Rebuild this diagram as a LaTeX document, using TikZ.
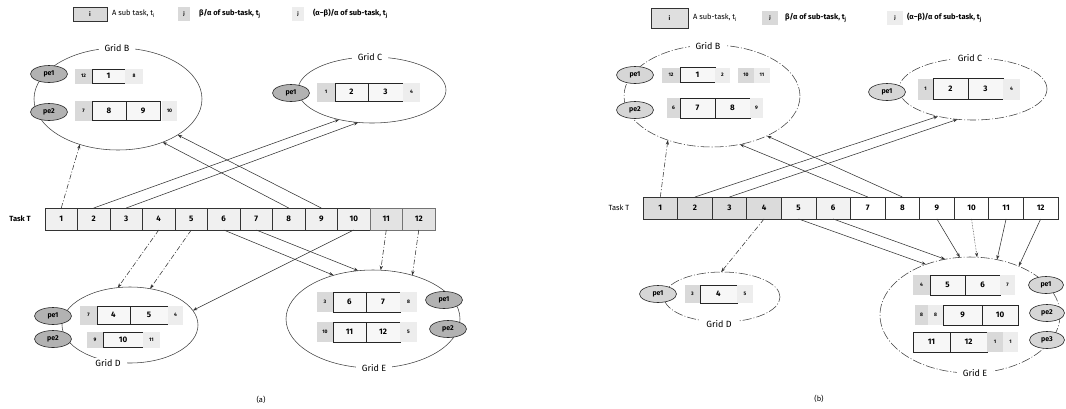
\documentclass[tikz,border=0pt]{standalone}
\usepackage{fontspec}
\setmainfont{Fira Sans}
\usetikzlibrary{shapes.geometric,arrows.meta}
\newcommand\bx[7]{\node[#2,minimum width={(#4)-(#3)},minimum height=#6] (#1) at ({((#3)+(#4))/2},#5) {#7};}
\begin{document}
\begin{tikzpicture}[x=1pt,y=-1pt,
  every node/.style={inner sep=0pt, outer sep=0pt},
  tbox/.style={draw=black!80, line width=0.7pt, minimum height=22pt, font=\bfseries\fontsize{8}{9}\selectfont},
  gridA/.style={ellipse, draw=black!75, line width=0.55pt},
  gridB/.style={ellipse, draw=black!75, line width=0.55pt, dash pattern=on 9pt off 2pt on 1pt off 2pt},
  glabel/.style={fill=white, inner xsep=6pt, inner ysep=1pt, font=\fontsize{9}{10}\selectfont},
  peA/.style={ellipse, draw=black!85, line width=0.6pt, fill=gray!60, minimum width=37pt, minimum height=17pt, font=\bfseries\fontsize{7}{8}\selectfont},
  peB/.style={peA, fill=gray!32},
  mb/.style={draw=black!85, line width=0.7pt, fill=gray!6, font=\bfseries\fontsize{8}{9}\selectfont},
  sbt/.style={fill=gray!30, font=\bfseries\fontsize{5}{6}\selectfont},
  sat/.style={fill=gray!14, font=\bfseries\fontsize{5}{6}\selectfont},
  arr/.style={-{Stealth[length=4.5pt,width=3.2pt]}, draw=black!80, line width=0.55pt},
  dd/.style={dash pattern=on 5pt off 2pt on 1pt off 2pt},
  lgt/.style={anchor=west, font=\fontsize{7.5}{9}\selectfont},
  lgb/.style={anchor=west, font=\bfseries\fontsize{7.5}{9}\selectfont}]
\useasboundingbox (0,0) rectangle (1066,408);

% ================= panel (a) =================
% legend
\node[draw=black!80, line width=0.6pt, fill=gray!30, minimum width=34pt, minimum height=14pt, font=\bfseries\fontsize{6}{7}\selectfont] (lga1) at (90,14) {i};
\node[lgt] (lga1t) at (112,14) {A sub task, t\textsubscript{i}};
\node[sbt, minimum width=12pt, minimum height=14pt] (lga2) at (184,14) {j};
\node[lgb] (lga2t) at (199,14) {β/α of sub-task, t\textsubscript{j}};
\node[sat, minimum width=12pt, minimum height=14pt] (lga3) at (298,14) {j};
\node[lgb] (lga3t) at (313,14) {(α−β)/α of sub-task, t\textsubscript{j}};

% grids
\node[gridA, minimum width=168pt, minimum height=102pt] (gBa) at (118,99) {};
\node[gridA, minimum width=148pt, minimum height=66pt] (gCa) at (372,90) {};
\node[gridA, minimum width=136pt, minimum height=76pt] (gDa) at (130,325) {};
\node[gridA, minimum width=174pt, minimum height=98pt] (gEa) at (373,319) {};
\node[glabel] (lBa) at (117,48) {Grid B};
\node[glabel] (lCa) at (370,57) {Grid C};
\node[glabel] (lDa) at (108,363) {Grid D};
\node[glabel] (lEa) at (374,368) {Grid E};

% task row
\node[font=\bfseries\fontsize{7.5}{9}\selectfont] (tTa) at (20,219) {Task T};
\foreach \i in {1,...,10} {\node[tbox, fill=gray!12, minimum width=32.5pt] (ta\i) at ({45+32.5*(\i-0.5)},219) {\i};}
\foreach \i in {11,12} {\node[tbox, fill=gray!22, draw=black!55, minimum width=32.5pt] (ta\i) at ({45+32.5*(\i-0.5)},219) {\i};}

% grid B rows
\bx{aB11}{sbt}{75}{92}{76}{15}{12}
\bx{aB12}{mb}{92}{125}{76}{14}{1}
\bx{aB13}{sat}{125}{143}{76}{15}{8}
\bx{aB21}{sbt}{75}{92}{111}{20}{7}
\bx{aB22}{mb}{92}{126}{111}{19}{8}
\bx{aB23}{mb}{126}{160}{111}{19}{9}
\bx{aB24}{sat}{162}{177}{111}{20}{10}
% grid C row
\bx{aC1}{sbt}{317}{335}{92}{19}{1}
\bx{aC2}{mb}{335}{368}{92}{18}{2}
\bx{aC3}{mb}{368}{403}{92}{18}{3}
\bx{aC4}{sat}{403}{420}{92}{19}{4}
% grid D rows
\bx{aD11}{sbt}{80}{97}{315}{19}{7}
\bx{aD12}{mb}{97}{130}{315}{18}{4}
\bx{aD13}{mb}{130}{168}{315}{18}{5}
\bx{aD14}{sat}{168}{183}{315}{19}{4}
\bx{aD21}{sbt}{87}{103}{340}{16}{9}
\bx{aD22}{mb}{103}{143}{340}{15}{10}
\bx{aD23}{sat}{143}{160}{340}{16}{11}
% grid E rows
\bx{aE11}{sbt}{317}{333}{302}{20}{3}
\bx{aE12}{mb}{333}{366}{302}{20}{6}
\bx{aE13}{mb}{366}{400}{302}{20}{7}
\bx{aE14}{sat}{400}{417}{302}{20}{8}
\bx{aE21}{sbt}{317}{333}{332}{20}{10}
\bx{aE22}{mb}{333}{366}{332}{20}{11}
\bx{aE23}{mb}{366}{400}{332}{20}{12}
\bx{aE24}{sat}{400}{417}{332}{20}{5}

% processing elements
\node[peA] (aBp1) at (49,74) {pe1};
\node[peA] (aBp2) at (49,112) {pe2};
\node[peA] (aCp1) at (291,93) {pe1};
\node[peA] (aDp1) at (53,316) {pe1};
\node[peA] (aDp2) at (53,339) {pe2};
\node[peA] (aEp1) at (444,300) {pe1};
\node[peA] (aEp2) at (448,329) {pe2};

% connectors
\draw[arr,dd] (ta1.north) -- (gBa.230);
\draw[arr] (ta2.north) -- (gCa.222);
\draw[arr] (ta3.north) -- (gCa.247);
\draw[arr] (ta8.north) -- (gBa.316);
\draw[arr] (ta9.north) -- (gBa.329);
\draw[arr,dd] (ta4.south) -- (gDa.108);
\draw[arr,dd] (ta5.south) -- (gDa.61);
\draw[arr] (ta10.south) -- (gDa.13);
\draw[arr] (ta6.south) -- (gEa.132);
\draw[arr] (ta7.south) -- (gEa.107);
\draw[arr,dd] (ta11.south) -- (gEa.81);
\draw[arr,dd] (ta12.south) -- (gEa.48);

\node[font=\fontsize{7.5}{9}\selectfont] (capa) at (261,400) {(a)};

% ================= panel (b) =================
\node[draw=black!80, line width=0.6pt, fill=gray!25, minimum width=37pt, minimum height=20pt, font=\bfseries\fontsize{6}{7}\selectfont] (lgb1) at (669.5,18) {i};
\node[lgt] (lgb1t) at (693,18) {A sub-task, t\textsubscript{i}};
\node[sbt, minimum width=16pt, minimum height=14pt] (lgb2) at (770,18) {j};
\node[lgb] (lgb2t) at (785,18) {β/α of sub-task, t\textsubscript{j}};
\node[sat, minimum width=16pt, minimum height=14pt] (lgb3) at (895,18) {j};
\node[lgb] (lgb3t) at (907,18) {(α−β)/α of sub-task, t\textsubscript{j}};

\node[gridB, minimum width=176pt, minimum height=102pt] (gBb) at (712,96) {};
\node[gridB, minimum width=148pt, minimum height=62pt] (gCb) at (973,89) {};
\node[gridB, minimum width=116pt, minimum height=50pt] (gDb) at (722,297) {};
\node[gridB, minimum width=180pt, minimum height=116pt] (gEb) at (970,315) {};
\node[glabel] (lBb) at (708,46) {Grid B};
\node[glabel] (lCb) at (970,58) {Grid C};
\node[glabel] (lDb) at (719,324) {Grid D};
\node[glabel] (lEb) at (975,373) {Grid E};

\node[font=\fontsize{7.5}{9}\selectfont] (tTb) at (619,208) {Task T};
\foreach \i in {1,...,4} {\node[tbox, fill=gray!28, minimum width=34.58pt] (tb\i) at ({643+34.58*(\i-0.5)},208) {\i};}
\foreach \i in {5,6} {\node[tbox, fill=gray!10, minimum width=34.58pt] (tb\i) at ({643+34.58*(\i-0.5)},208) {\i};}
\foreach \i in {7,...,12} {\node[tbox, fill=white, minimum width=34.58pt] (tb\i) at ({643+34.58*(\i-0.5)},208) {\i};}

% grid B rows
\bx{bB11}{sbt}{662}{680}{75}{15}{12}
\bx{bB12}{mb}{680}{715}{75}{15}{1}
\bx{bB13}{sat}{715}{730}{75}{15}{2}
\bx{bB14}{sbt}{738}{754}{75}{15}{10}
\bx{bB15}{sat}{754}{770}{75}{15}{11}
\bx{bB21}{sbt}{667}{680}{108}{20}{6}
\bx{bB22}{mb}{680}{715}{108}{20}{7}
\bx{bB23}{mb}{715}{750}{108}{20}{8}
\bx{bB24}{sat}{750}{763}{108}{20}{9}
% grid C row
\bx{bC1}{sbt}{918}{933}{89}{21}{1}
\bx{bC2}{mb}{933}{968}{89}{21}{2}
\bx{bC3}{mb}{968}{1003}{89}{21}{3}
\bx{bC4}{sat}{1003}{1020}{89}{21}{4}
% grid D row
\bx{bD1}{sbt}{685}{700}{294}{18}{3}
\bx{bD2}{mb}{700}{737}{294}{18}{4}
\bx{bD3}{sat}{737}{753}{294}{18}{5}
% grid E rows
\bx{bE11}{sbt}{913}{930}{285}{20}{4}
\bx{bE12}{mb}{930}{965}{285}{20}{5}
\bx{bE13}{mb}{965}{1000}{285}{20}{6}
\bx{bE14}{sat}{1000}{1015}{285}{20}{7}
\bx{bE21}{sbt}{915}{928}{315}{20}{8}
\bx{bE22}{sat}{928}{943}{315}{20}{8}
\bx{bE23}{mb}{943}{982}{315}{20}{9}
\bx{bE24}{mb}{982}{1018}{315}{20}{10}
\bx{bE31}{mb}{913}{950}{342}{20}{11}
\bx{bE32}{mb}{950}{987}{342}{20}{12}
\bx{bE33}{sbt}{987}{1003}{342}{20}{1}
\bx{bE34}{sat}{1003}{1018}{342}{20}{1}

\node[peB] (bBp1) at (635,75) {pe1};
\node[peB] (bBp2) at (635,110) {pe2};
\node[peB] (bCp1) at (887,92) {pe1};
\node[peB] (bDp1) at (658,294) {pe1};
\node[peB, minimum width=35pt] (bEp1) at (1046,285) {pe1};
\node[peB, minimum width=35pt] (bEp2) at (1047,313) {pe2};
\node[peB, minimum width=35pt] (bEp3) at (1047,340) {pe3};

\draw[arr,dd] (tb1.north) -- (gBb.225);
\draw[arr] (tb2.north) -- (gCb.218);
\draw[arr] (tb3.north) -- (gCb.243);
\draw[arr] (tb7.north) -- (gBb.300);
\draw[arr] (tb8.north) -- (gBb.324);
\draw[arr,dd] (tb4.south) -- (gDb.92);
\draw[arr] (tb5.south) -- (gEb.131);
\draw[arr] (tb6.south) -- (gEb.114);
\draw[arr] (tb9.south) -- (gEb.100);
\draw[arr,densely dotted] (tb10.south) -- (gEb.83);
\draw[arr] (tb11.south) -- (gEb.64);
\draw[arr] (tb12.south) -- (gEb.45);

\node[font=\fontsize{7.5}{9}\selectfont] (capb) at (819,399) {(b)};
\end{tikzpicture}
\end{document}
